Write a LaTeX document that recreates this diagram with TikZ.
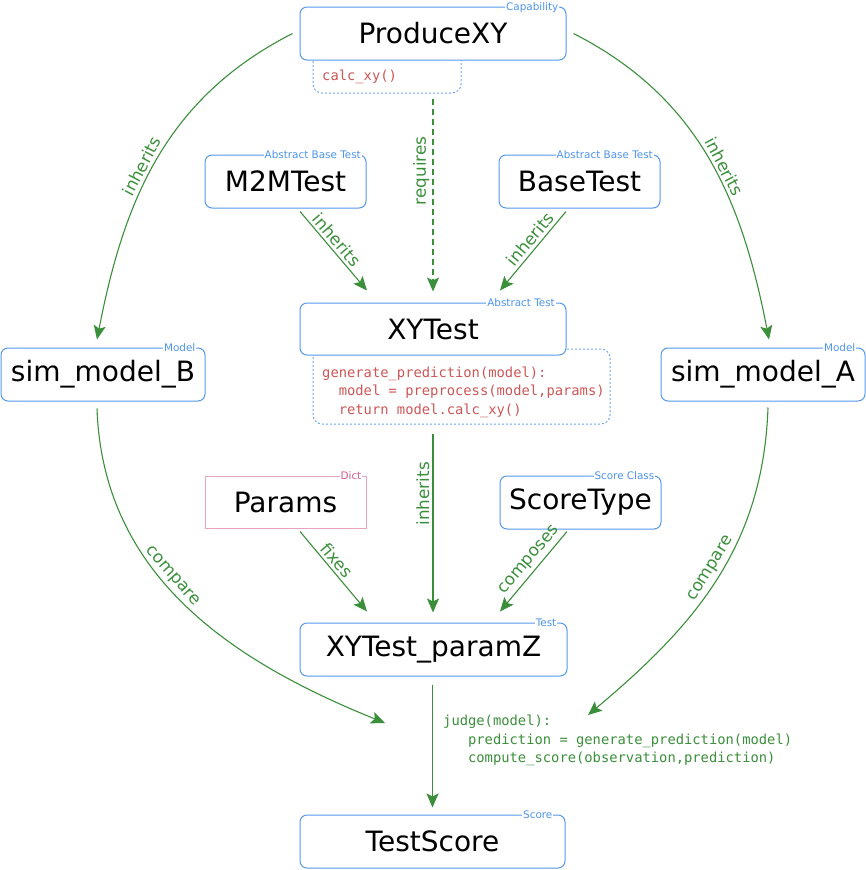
\documentclass[tikz,border=0pt]{standalone}
\usepackage{fontspec}
\setmainfont{DejaVu Sans}
\setmonofont{DejaVu Sans Mono}
\usetikzlibrary{arrows.meta}

\definecolor{boxblue}{HTML}{5599EE}
\definecolor{tagblue}{HTML}{4D94EC}
\definecolor{linkgreen}{HTML}{3B8F3B}
\definecolor{codered}{HTML}{CC5656}
\definecolor{dictpink}{HTML}{E8A3BE}
\definecolor{dicttext}{HTML}{D65A8C}

\begin{document}
\begin{tikzpicture}[x=1pt,y=1pt,
  cls/.style={draw=boxblue, line width=1pt, rounded corners=7pt, fill=white,
    inner sep=0pt, text=black, font=\fontsize{28}{32}\selectfont},
  dictbox/.style={cls, draw=dictpink, rounded corners=0pt},
  tag/.style={fill=white, inner sep=1pt, anchor=base east, text=tagblue,
    font=\fontsize{10.4}{11}\selectfont},
  codebox/.style={draw=boxblue!85, line width=1pt, dash pattern=on 2pt off 2pt,
    rounded corners=9pt, inner sep=0pt},
  code/.style={text=codered, inner sep=0pt, align=left, anchor=base west,
    font=\ttfamily\fontsize{13.8}{18.6}\selectfont},
  link/.style={draw=linkgreen, line width=1.1pt,
    -{Stealth[length=14pt,width=12pt,inset=3pt]}},
  lbl/.style={text=linkgreen, inner sep=3pt, font=\fontsize{16.8}{18}\selectfont},
]
\useasboundingbox (0,0) rectangle (866,-870);

% method boxes sit behind the class boxes
\node[codebox, minimum width=148, minimum height=45] (calcbox) at (387,-70.5) {};
\node[codebox, minimum width=297, minimum height=75] (codebox) at (461.5,-386.5) {};

% classes
\node[cls, minimum width=266, minimum height=53] (prod)   at (433,-33.5)   {ProduceXY};
\node[cls, minimum width=161, minimum height=53] (m2m)    at (285.5,-181.5) {M2MTest};
\node[cls, minimum width=161, minimum height=53] (base)   at (579.5,-181.5) {BaseTest};
\node[cls, minimum width=266, minimum height=52] (xy)     at (433,-329)    {XYTest};
\node[cls, minimum width=204, minimum height=53] (simB)   at (103,-374.5)  {sim\_model\_B};
\node[cls, minimum width=204, minimum height=53] (simA)   at (763,-374.5)  {sim\_model\_A};
\node[dictbox, minimum width=161, minimum height=52] (params) at (285.5,-502) {Params};
\node[cls, minimum width=161, minimum height=53] (score)  at (580.5,-502.5) {ScoreType};
\node[cls, minimum width=267, minimum height=53] (pz)     at (433.5,-649.5) {XYTest\_paramZ};
\node[cls, minimum width=265, minimum height=53] (ts)     at (432.5,-841.5) {TestScore};

% category tags on the top borders
\node[tag] (tprod)   at ([shift={(-7,-4)}]prod.north east)   {Capability};
\node[tag] (tm2m)    at ([shift={(-4.5,-4)}]m2m.north east)  {Abstract Base Test};
\node[tag] (tbase)   at ([shift={(-6.5,-4)}]base.north east) {Abstract Base Test};
\node[tag] (txy)     at ([shift={(-10.5,-4)}]xy.north east)  {Abstract Test};
\node[tag] (tsimB)   at ([shift={(-9,-4)}]simB.north east)   {Model};
\node[tag] (tsimA)   at ([shift={(-9,-4)}]simA.north east)   {Model};
\node[tag, text=dicttext] (tparams) at ([shift={(-4,-4)}]params.north east) {Dict};
\node[tag] (tscore)  at ([shift={(-6,-4)}]score.north east)  {Score Class};
\node[tag] (tpz)     at ([shift={(-10,-4)}]pz.north east)    {Test};
\node[tag] (tts)     at ([shift={(-12,-4)}]ts.north east)    {Score};

% method bodies (a multi-line node sits on the baseline of its last line)
\node[code] (calctext) at (322,-80) {calc\_xy()};
\node[code] (gentext) at (322,-414.5)
  {generate\_prediction(model):\\
   \hphantom{mo}model = preprocess(model,params)\\
   \hphantom{mo}return model.calc\_xy()};
\node[code, text=linkgreen] (judge) at (443,-762.8)
  {judge(model):\\
   \hphantom{mod}prediction = generate\_prediction(model)\\
   \hphantom{mod}compute\_score(observation,prediction)};

\coordinate (cmpL) at (385,-723);
\coordinate (cmpR) at (588,-715);

% relations
\draw[link] ([xshift=-7pt]prod.west) to[out=-153,in=79]
  node[lbl, pos=0.54, sloped, above] {inherits} ([shift={(-6,8)}]simB.north);
\draw[link] ([xshift=7pt]prod.east) to[out=-27,in=101]
  node[lbl, pos=0.54, sloped, above] {inherits} ([shift={(6,8)}]simA.north);
\draw[link, dash pattern=on 6pt off 4pt, shorten <=5pt, shorten >=11pt]
  (calcbox.south -| prod.south) --
  node[lbl, pos=0.37, rotate=90, anchor=south] {requires} (xy.north);
\draw[link] ([shift={(14.5,-3)}]m2m.south) --
  node[lbl, pos=0.44, sloped, above] {inherits} ([shift={(-66,12)}]xy.north);
\draw[link] ([shift={(-13.5,-3)}]base.south) --
  node[lbl, pos=0.43, sloped, above] {inherits} ([shift={(67,12)}]xy.north);
\draw[link, shorten <=9pt, shorten >=10pt]
  (xy.south |- codebox.south) --
  node[lbl, pos=0.35, rotate=90, anchor=south] {inherits} (xy.south |- pz.north);
\draw[link] ([shift={(14.5,-3)}]params.south) --
  node[lbl, pos=0.44, sloped, above] {fixes} ([shift={(-66.5,11)}]pz.north);
\draw[link] ([shift={(-13.5,-2)}]score.south) --
  node[lbl, pos=0.44, sloped, above] {composes} ([shift={(66.5,11)}]pz.north);
\draw[link] ([shift={(-6,-7)}]simB.south) to[out=-88,in=158]
  node[lbl, pos=0.43, sloped, above] {compare} (cmpL);
\draw[link] ([shift={(5,-6)}]simA.south) to[out=-92,in=40]
  node[lbl, pos=0.48, sloped, above] {compare} (cmpR);
\draw[link, shorten <=8pt, shorten >=7pt] (ts.north |- pz.south) -- (ts.north);
\end{tikzpicture}
\end{document}
